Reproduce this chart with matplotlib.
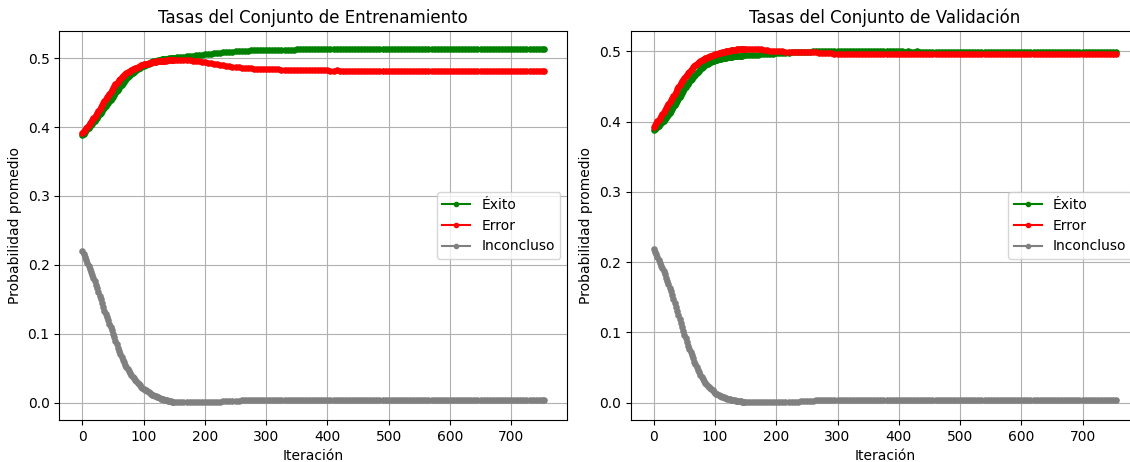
import matplotlib
matplotlib.use("Agg")
import matplotlib.pyplot as plt

# iteraciones muestreadas: cada 2 pasos en la subida, cada 5 después
iteraciones = list(range(0, 150, 2)) + list(range(150, 755, 5)) + [754]

# Conjunto de entrenamiento
train_exito = [
    # 0 .. 148 (paso 2)
    .388, .3904, .3928, .395, .397, .399, .401, .403, .405, .407,
    .409, .4114, .4138, .4162, .4186, .421, .4234, .4258, .4282, .4306,
    .433, .4352, .4374, .4396, .4418, .444, .4466, .4492, .4518, .4542,
    .4565, .4589, .4613, .4636, .4658, .468, .470, .472, .4738, .4754,
    .477, .4786, .4802, .4816, .4828, .484, .4852, .4864, .4874, .4882,
    .489, .4898, .4906, .4914, .4922, .493, .4938, .4946, .4952, .4956,
    .496, .4965, .4970, .4974, .4978, .4982, .4985, .4988, .4991, .4993,
    .4995, .4997, .4999, .5001, .5003,
    # 150 .. 754 (paso 5)
    .5005, .501, .5015, .502, .5025, .503, .5035, .504, .5045, .505,
    .5055, .506, .5065, .507, .5075, .508, .5085, .509, .5093, .5097,
    .510, .5103, .5106, .5108, .511, .5112, .5114, .5116, .5118, .512,
    .5121, .5122, .5122, .5123, .5124, .5124, .5125, .5125, .5126, .5126,
    .5127, .5127, .5128, .5128, .5129, .5131, .5133, .5134, .5134, .5135,
    .5135, .5136, .5136, .5135, .5136, .5137, .5136, .5136, .5137, .5137,
    .5137, .5136, .5137, .5137, .5138, .5137, .5137, .5137, .5138, .5137,
    .5137, .5138, .5137, .5137, .5138, .5138, .5137, .5137, .5138, .5138,
    .5137, .5138, .5138, .5137, .5138, .5138, .5138, .5137, .5138, .5138,
    .5138, .5137, .5138, .5138, .5138, .5138, .5137, .5138, .5138, .5138,
    .5138, .5138, .5137, .5138, .5138, .5138, .5138, .5138, .5137, .5138,
    .5138, .5138, .5138, .5138, .5138, .5137, .5138, .5138, .5138, .5138,
    .5138, .5138,
]
train_error = [
    .392, .394, .396, .3982, .4006, .403, .4054, .4078, .4102, .4126,
    .415, .4178, .4206, .4234, .4262, .429, .4318, .4346, .4374, .4402,
    .443, .4458, .4486, .4514, .4542, .457, .4594, .4618, .464, .466,
    .468, .470, .472, .4738, .4754, .477, .4782, .4794, .4806, .4818,
    .483, .4838, .4846, .4854, .4862, .487, .4878, .4886, .4894, .4902,
    .491, .4914, .4918, .4922, .4926, .493, .4934, .4938, .4942, .4946,
    .495, .4952, .4954, .4956, .4958, .496, .4962, .4964, .4966, .4968,
    .497, .4971, .4972, .4973, .4973,
    .4974, .4975, .4975, .4973, .497, .4967, .4963, .4958, .4953, .4948,
    .4942, .4935, .4927, .4918, .491, .4902, .4895, .4888, .4881, .4875,
    .487, .4866, .4862, .4858, .4855, .4852, .4849, .4846, .4844, .4842,
    .484, .4839, .4838, .4837, .4836, .4835, .4834, .4833, .4833, .4832,
    .4831, .4831, .483, .483, .4829, .4826, .4824, .4823, .4823, .4822,
    .4822, .4821, .4821, .4822, .4821, .482, .4821, .4821, .482, .482,
    .4821, .482, .482, .4821, .482, .482, .482, .4819, .482, .482,
    .482, .4819, .482, .482, .4819, .4819, .482, .482, .4819, .4819,
    .482, .4819, .4819, .482, .4819, .4819, .4819, .482, .4819, .4819,
    .4819, .482, .4819, .4819, .4819, .4819, .482, .4819, .4819, .4819,
    .4819, .4819, .482, .4819, .4819, .4819, .4819, .4819, .482, .4819,
    .4819, .4819, .4819, .4819, .4819, .482, .4819, .4819, .4819, .4819,
    .4819, .4819,
]
train_inconcluso = [
    .220, .2156, .2112, .2068, .2024, .198, .1936, .1892, .1848, .1804,
    .176, .171, .1656, .1604, .1552, .150, .1444, .1388, .1336, .1288,
    .124, .1192, .1144, .1096, .1048, .100, .0948, .0896, .0846, .0798,
    .075, .0706, .0662, .0620, .0584, .055, .0518, .0486, .0456, .0428,
    .040, .0376, .0352, .0330, .0310, .029, .027, .025, .0232, .0216,
    .020, .0188, .0176, .0164, .0152, .014, .0128, .0116, .0106, .0098,
    .009, .0082, .0074, .0066, .0058, .005, .0046, .0042, .0037, .0031,
    .0025, .0021, .0017, .0014, .0012,
    .001, .0007, .0005, .0004, .0003, .0003, .0003, .0003, .0003, .0004,
    .0005, .0006, .0007, .0008, .0009, .0012, .0015, .0018, .002, .0023,
    .0026, .0028, .003, .0032, .0034, .0035, .0036, .0037, .0038, .0039,
    .004, .004, .004, .004, .004, .004, .004, .004, .004, .004,
    .004, .004, .004, .004, .0041, .0041, .0041, .0041, .0041, .0041,
    .0041, .0041, .0041, .0041, .0041, .0041, .0041, .0041, .0041, .0041,
    .0041, .0041, .0041, .0041, .0041, .0041, .0041, .0041, .0041, .0041,
    .0041, .0041, .0041, .0041, .0041, .0041, .0041, .0041, .0041, .0041,
    .0041, .0041, .0041, .0041, .0041, .0041, .0041, .0041, .0041, .0041,
    .0041, .0041, .0041, .0041, .0041, .0041, .0041, .0041, .0041, .0041,
    .0041, .0041, .0041, .0041, .0041, .0041, .0041, .0041, .0041, .0041,
    .0041, .0041, .0041, .0041, .0041, .0041, .0041, .0041, .0041, .0041,
    .0041, .0041,
]

# Conjunto de validación
val_exito = [
    .388, .3896, .3912, .3928, .3944, .396, .3976, .3992, .401, .403,
    .405, .4074, .4098, .4124, .4152, .418, .4208, .4236, .4264, .4292,
    .432, .4348, .4376, .4404, .4432, .446, .4488, .4516, .4542, .4566,
    .459, .461, .463, .465, .467, .469, .4709, .4726, .4743, .4759,
    .4775, .4789, .4803, .4816, .4826, .4835, .4843, .4851, .4859, .4866,
    .4872, .4877, .4882, .4887, .4892, .4896, .4900, .4903, .4907, .491,
    .4913, .4916, .4919, .4922, .4925, .4927, .4929, .4931, .4933, .4935,
    .4937, .4938, .4939, .4941, .4942,
    .4943, .4946, .4949, .4952, .4955, .4958, .496, .4963, .4966, .4969,
    .4972, .4975, .4978, .498, .4983, .4985, .4987, .4989, .4991, .4993,
    .4995, .4997, .4999, .5001, .5003, .5005, .5007, .5009, .501, .501,
    .5008, .5007, .5009, .5006, .5005, .5007, .5004, .5003, .5005, .5002,
    .5002, .5003, .5001, .5, .5002, .5, .4999, .5001, .4999, .4998,
    .5, .4998, .4997, .4999, .4997, .4996, .4998, .4996, .4997, .4996,
    .4995, .4997, .4996, .4995, .4996, .4997, .4995, .4996, .4995, .4996,
    .4997, .4995, .4995, .4996, .4995, .4995, .4996, .4995, .4997, .4995,
    .4995, .4996, .4995, .4995, .4996, .4995, .4995, .4994, .4995, .4996,
    .4995, .4995, .4996, .4995, .4994, .4995, .4995, .4996, .4995, .4995,
    .4995, .4994, .4995, .4995, .4996, .4995, .4995, .4995, .4994, .4995,
    .4995, .4995, .4996, .4995, .4995, .4995, .4994, .4995, .4995, .4995,
    .4995, .4995,
]
val_error = [
    .393, .3954, .3978, .4002, .4026, .405, .4078, .4106, .4134, .4162,
    .419, .4218, .4246, .4276, .4308, .434, .4368, .4396, .4426, .4458,
    .449, .4518, .4546, .4572, .4596, .462, .4644, .4668, .4691, .4713,
    .4735, .4753, .4771, .4788, .4804, .482, .4834, .4848, .486, .487,
    .488, .489, .490, .4909, .4917, .4925, .4932, .4939, .4945, .4951,
    .4957, .4962, .4967, .4972, .4978, .4983, .4988, .4993, .4997, .5001,
    .5005, .5009, .5012, .5016, .5019, .5022, .5024, .5026, .5029, .5031,
    .5033, .5034, .5035, .5036, .5037,
    .5038, .5038, .5037, .5035, .5032, .5028, .5022, .5016, .501, .5005,
    .5001, .4999, .4998, .4997, .4996, .4995, .4995, .4994, .4993, .4992,
    .499, .4988, .4986, .4984, .4982, .498, .4977, .4974, .4971, .4968,
    .4966, .4968, .4965, .4969, .4967, .4964, .4968, .4966, .4963, .4967,
    .4969, .4966, .4964, .4967, .4968, .4965, .4967, .4969, .4966, .4967,
    .4965, .4968, .4967, .4966, .4968, .4965, .4967, .4968, .4966, .4967,
    .4968, .4966, .4967, .4968, .4966, .4967, .4966, .4968, .4967, .4966,
    .4967, .4968, .4966, .4967, .4967, .4968, .4966, .4967, .4965, .4967,
    .4968, .4966, .4967, .4967, .4966, .4968, .4967, .4967, .4966, .4967,
    .4967, .4968, .4966, .4967, .4968, .4967, .4966, .4967, .4967, .4968,
    .4967, .4967, .4966, .4967, .4968, .4967, .4967, .4967, .4966, .4967,
    .4967, .4967, .4968, .4967, .4967, .4966, .4967, .4967, .4967, .4967,
    .4967, .4967,
]
val_inconcluso = [
    .219, .215, .211, .207, .203, .199, .195, .191, .1868, .1824,
    .178, .1732, .1684, .1634, .1582, .153, .1474, .1418, .1362, .1306,
    .125, .1192, .1134, .1076, .1021, .0965, .0913, .0861, .0811, .0763,
    .0715, .0671, .0627, .0584, .0542, .050, .0464, .0428, .0394, .0362,
    .033, .0306, .0282, .0260, .0240, .022, .0204, .0188, .0172, .0156,
    .014, .0128, .0116, .0106, .0098, .009, .0082, .0074, .0067, .0061,
    .0055, .005, .0045, .0041, .0037, .0033, .003, .0027, .0024, .0021,
    .0018, .0016, .0014, .0012, .0011,
    .001, .0008, .0006, .0005, .0004, .0003, .0003, .0003, .0003, .0003,
    .0003, .0003, .0004, .0005, .0006, .0008, .001, .0012, .0015, .0018,
    .002, .0023, .0026, .0029, .0032, .0034, .0036, .0038, .0039, .004,
    .004, .004, .004, .004, .004, .004, .004, .004, .004, .004,
    .004, .004, .004, .004, .004, .004, .004, .004, .004, .004,
    .004, .004, .004, .004, .004, .004, .004, .004, .004, .004,
    .004, .004, .004, .004, .004, .004, .004, .004, .004, .004,
    .004, .004, .004, .004, .004, .004, .004, .004, .004, .004,
    .004, .004, .004, .004, .004, .004, .004, .004, .004, .004,
    .004, .004, .004, .004, .004, .004, .004, .004, .004, .004,
    .004, .004, .004, .004, .004, .004, .004, .004, .004, .004,
    .004, .004, .004, .004, .004, .004, .004, .004, .004, .004,
    .004, .004,
]

W, H = 1130, 462
fig = plt.figure(figsize=(W / 100, H / 100), dpi=100)
ax1 = fig.add_axes([59.3 / W, 42 / H, 508 / W, 389 / H])
ax2 = fig.add_axes([630.7 / W, 42 / H, 508 / W, 389 / H])

paneles = [
    (ax1, train_exito, train_error, train_inconcluso, 'Tasas del Conjunto de Entrenamiento'),
    (ax2, val_exito, val_error, val_inconcluso, 'Tasas del Conjunto de Validación'),
]
for ax, exito, error, inconcluso, titulo in paneles:
    ax.plot(iteraciones, exito, marker='.', ms=7.5, color='green', label='Éxito')
    ax.plot(iteraciones, error, marker='.', ms=7.5, color='red', label='Error')
    ax.plot(iteraciones, inconcluso, marker='.', ms=7.5, color='gray', label='Inconcluso')
    ax.set_title(titulo)
    ax.set_xlabel('Iteración')
    ax.set_ylabel('Probabilidad promedio')
    ax.legend(loc='center right', markerscale=0.8)
    ax.grid(True)

fig.savefig('out.png', dpi=100)
